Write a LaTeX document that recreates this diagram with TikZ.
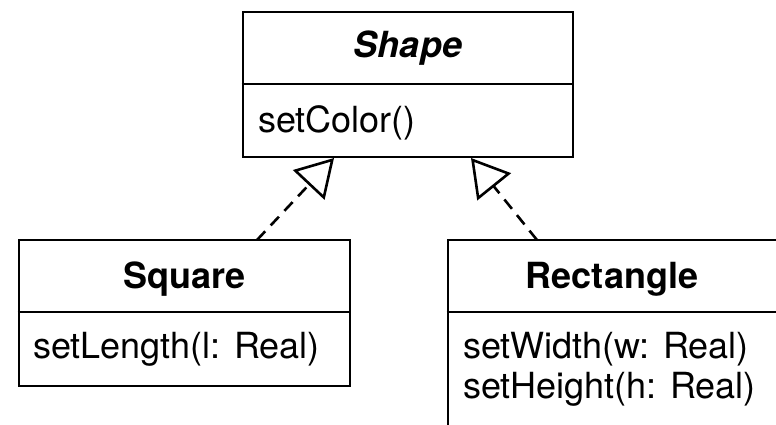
\documentclass[tikz,border=0pt]{standalone}
\usepackage{fontspec}
\setmainfont{TeX Gyre Heros}
\usetikzlibrary{arrows.meta}
\begin{document}
\begin{tikzpicture}[x=1pt, y=-1pt,
  classbox/.style={draw, line width=2.6pt, inner sep=0pt},
  divider/.style={line width=2.6pt},
  classtitle/.style={font=\fontsize{36}{40}\selectfont\bfseries, anchor=base, inner sep=0pt},
  member/.style={font=\fontsize{36}{40}\selectfont, anchor=base west, inner sep=0pt, align=left},
  realize/.style={line width=2.6pt, dash pattern=on 12pt off 8pt,
    -{Triangle[open, length=37pt, width=43pt]}}]
  \useasboundingbox (0,0) rectangle (776,424);
  \clip (0,0) rectangle (776,424);

  % abstract class Shape
  \node[classbox, minimum width=330pt, minimum height=145pt] (shape) at (408,84.5) {};
  \draw[divider] (shape.west |- 0,84) -- (shape.east |- 0,84);
  \node[classtitle] (shapetitle) at (408,57) {\textit{Shape}};
  \node[member] (shapeops) at (258,132) {setColor()};

  % class Square
  \node[classbox, minimum width=331pt, minimum height=146pt] (square) at (184.5,313) {};
  \draw[divider] (square.west |- 0,312) -- (square.east |- 0,312);
  \node[classtitle] (squaretitle) at (184.5,288) {Square};
  \node[member] (squareops) at (33,358) {setLength(l: Real)};

  % class Rectangle
  \node[classbox, minimum width=331pt, minimum height=200pt] (rect) at (613.5,340) {};
  \draw[divider] (rect.west |- 0,312) -- (rect.east |- 0,312);
  \node[classtitle] (recttitle) at (612,288) {Rectangle};
  \node[member] (rectops1) at (463,358) {setWidth(w: Real)};
  \node[member] (rectops2) at (463,398) {setHeight(h: Real)};

  % realization connectors
  \coordinate (shapeL) at (334,158);
  \coordinate (shapeR) at (471,158);
  \coordinate (squaretop) at (257,240);
  \coordinate (recttop) at (537,240);
  \draw[realize] (squaretop) -- (shapeL);
  \draw[realize] (recttop) -- (shapeR);
\end{tikzpicture}
\end{document}
